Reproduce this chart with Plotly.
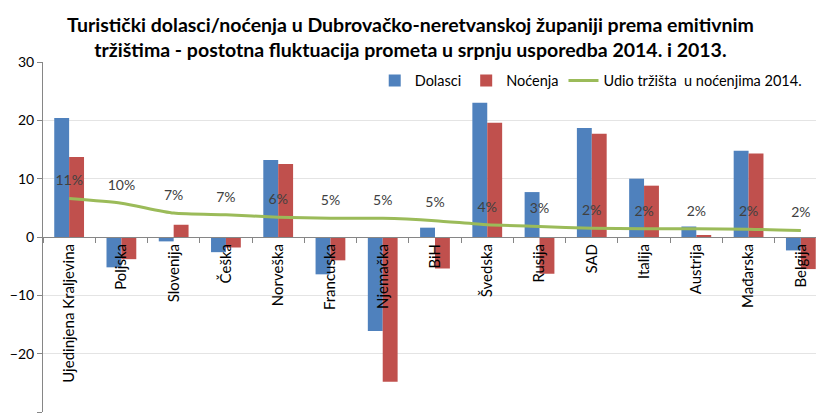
import plotly.graph_objects as go

categories = ["Ujedinjena Kraljevina", "Poljska", "Slovenija", "Češka", "Norveška",
              "Francuska", "Njemačka", "BiH", "Švedska", "Rusija", "SAD", "Italija",
              "Austrija", "Mađarska", "Belgija"]
dolasci = [20.4, -5.2, -0.75, -2.6, 13.2, -6.4, -16.1, 1.6, 23.0, 7.7, 18.7, 10.0, 1.8, 14.8, -2.3]
nocenja = [13.7, -3.8, 2.1, -1.8, 12.5, -4.0, -24.8, -5.4, 19.6, -6.3, 17.7, 8.8, 0.2, 14.3, -5.5]
udio_line = [6.6, 5.8, 4.1, 3.8, 3.4, 3.2, 3.2, 2.8, 2.1, 1.8, 1.5, 1.4, 1.4, 1.35, 1.1]
udio_labels = ["11%", "10%", "7%", "7%", "6%", "5%", "5%", "5%", "4%", "3%", "2%", "2%", "2%", "2%", "2%"]
y_ticks = [-30, -20, -10, 0, 10, 20, 30]

FONT = "Lato"

fig = go.Figure()
fig.add_trace(go.Bar(x=categories, y=dolasci, name="Dolasci",
                     marker=dict(color="#4F81BD", line=dict(width=0))))
fig.add_trace(go.Bar(x=categories, y=nocenja, name="Noćenja",
                     marker=dict(color="#C0504D", line=dict(width=0))))
fig.add_trace(go.Scatter(x=categories, y=udio_line,
                         name="Udio tržišta\u00a0\u00a0u noćenjima\u00a02014.",
                         mode="lines+markers+text", text=udio_labels,
                         textposition="top center",
                         textfont=dict(family=FONT, size=14, color="#404040"),
                         line=dict(color="#9BBB59", width=3, shape="spline", smoothing=0.6),
                         marker=dict(size=14, color="rgba(0,0,0,0)",
                                     line=dict(width=0, color="rgba(0,0,0,0)"))))

fig.update_layout(
    width=816, height=416,
    margin=dict(l=43, r=0, t=62, b=4),
    paper_bgcolor="white", plot_bgcolor="white",
    font=dict(family=FONT, size=14, color="#000000"),
    title=dict(text="<b>Turistički dolasci/noćenja u Dubrovačko-neretvanskoj županiji prema emitivnim<br>tržištima - postotna fluktuacija prometa u srpnju usporedba 2014. i 2013.</b>",
               x=0.503, xanchor="center", yref="container", y=1 - 31.5 / 416, yanchor="middle",
               font=dict(family=FONT, size=19.5, color="#000000")),
    barmode="group", bargap=0.43, bargroupgap=0,
    showlegend=True,
    legend=dict(orientation="h", x=0.988, xanchor="right", y=0.993, yanchor="top",
                font=dict(family=FONT, size=14.5, color="#000000"),
                bgcolor="rgba(0,0,0,0)", traceorder="normal"),
    xaxis=dict(type="category", range=[-0.5, 14.29], anchor="free", position=0.5,
               showline=True, linecolor="#868686", linewidth=1,
               ticks="outside", tickson="boundaries", ticklen=5, tickcolor="#868686",
               tickangle=-90, showgrid=False, zeroline=False,
               tickfont=dict(family=FONT, size=15, color="#000000")),
    yaxis=dict(range=[-30, 30], tickvals=y_ticks, showgrid=True, gridcolor="#E4E4E4",
               zeroline=False, showline=True, linecolor="#868686", linewidth=1,
               ticks="outside", ticklen=5, tickcolor="#868686",
               tickfont=dict(family=FONT, size=14, color="#000000")),
)

fig.write_html("out.html", config={"displayModeBar": False},
               post_script="document.body.style.margin='0px';")
